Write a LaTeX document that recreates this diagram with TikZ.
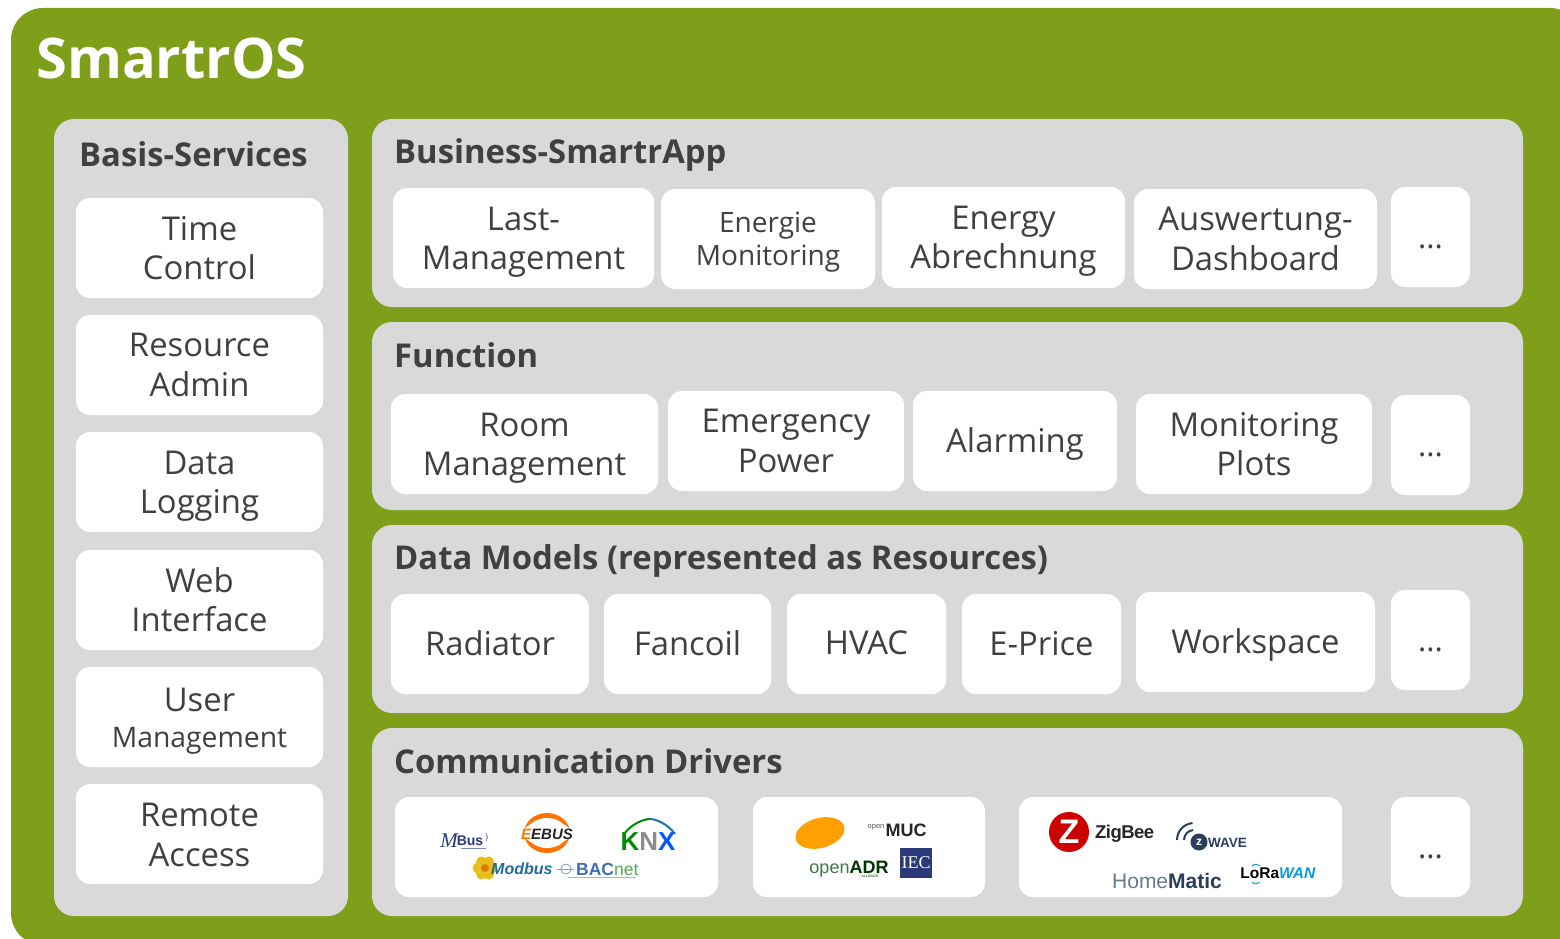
\documentclass[tikz,border=0pt]{standalone}
\usepackage{fontspec}
\usetikzlibrary{calc}
\setmainfont{Open Sans}
\newfontfamily\lsans{Liberation Sans}
\newfontfamily\lserif{Liberation Serif}
\definecolor{grn}{HTML}{7F9F1B}
\definecolor{pan}{HTML}{D9D9D9}
\definecolor{txt}{HTML}{404040}
\definecolor{navy}{HTML}{2A3A78}
\definecolor{zdark}{HTML}{2C3E5C}
\definecolor{bac}{HTML}{3F6FB5}
\tikzset{
 x=1pt,y=-1pt,
 panel/.style={fill=pan,draw=none,rounded corners=20pt,inner sep=0pt},
 card/.style={fill=white,draw=none,rounded corners=14pt,inner sep=0pt},
 cardtext/.style={inner sep=0pt,align=center,text=txt,font=\fontsize{32.8}{39.3}\selectfont},
 small/.style={font=\fontsize{28}{33}\selectfont},
 dots/.style={font=\fontsize{31}{33}\selectfont},
 head/.style={anchor=base west,text=txt,font=\fontsize{32.8}{39}\selectfont\bfseries,inner sep=0pt},
 logo/.style={inner sep=0pt,anchor=base}
}
\newcommand{\rbox}[8][]{\node[card,minimum width={(#5-#3)*1pt},minimum height={(#6-#4)*1pt}] (#2) at ({(#3+#5)/2},{(#4+#6)/2}) {};
 \node[cardtext,#1] (#2t) at ({(#3+#5)/2},{(#4+#6)/2+#7}) {#8};}
\newcommand{\pbox}[5]{\node[panel,minimum width={(#4-#2)*1pt},minimum height={(#5-#3)*1pt}] (#1) at ({(#2+#4)/2},{(#3+#5)/2}) {};}
\begin{document}
\begin{tikzpicture}
\useasboundingbox (0,0) rectangle (1560,939);
\clip (0,0) rectangle (1560,939);
\fill[grn,rounded corners=32pt] (11,8) rectangle (1582,945);
\node[anchor=base west,inner sep=0pt,text=white,font=\fontsize{56}{60}\selectfont\bfseries] (title) at (36,79) {SmartrOS};
\pbox{basis}{54}{119}{348}{916}
\pbox{biz}{372}{119}{1523}{307}
\pbox{fun}{372}{322}{1523}{510}
\pbox{dat}{372}{525}{1523}{713}
\pbox{com}{372}{728}{1523}{916}
\node[head] (hb) at (79,166) {Basis-Services};
\node[head] (h1) at (394,163) {Business-SmartrApp};
\node[head] (h2) at (394,367) {Function};
\node[head] (h3) at (394,569) {Data Models (represented as Resources)};
\node[head] (h4) at (394,773) {Communication Drivers};
\rbox{b1}{76}{198}{323}{298}{0}{Time\\Control}
\rbox{b2}{76}{315}{323}{415}{0}{Resource\\Admin}
\rbox{b3}{76}{432}{323}{532}{4}{Data\\Logging}
\rbox{b4}{76}{550}{323}{650}{0}{Web\\Interface}
\rbox{b5}{76}{667}{323}{767}{4}{User\\[-3pt]{\fontsize{28.3}{33}\selectfont Management}}
\rbox{b6}{76}{784}{323}{884}{1}{Remote\\Access}
\rbox{c1}{393}{188}{654}{288}{4}{Last-\\Management}
\rbox[small]{c2}{661}{189}{875}{289}{3}{Energie\\Monitoring}
\rbox{c3}{882}{187}{1125}{288}{3.5}{Energy\\Abrechnung}
\rbox{c4}{1134}{189}{1377}{289}{0}{Auswertung-\\Dashboard}
\rbox[dots]{c5}{1391}{187}{1470}{287}{10}{...}
\rbox{d1}{391}{394}{658}{494}{4}{Room\\Management}
\rbox{d2}{668}{391}{904}{491}{0}{Emergency\\Power}
\rbox{d3}{913}{391}{1117}{491}{3}{Alarming}
\rbox{d4}{1136}{394}{1372}{494}{0}{Monitoring\\Plots}
\rbox[dots]{d5}{1391}{395}{1470}{495}{10}{...}
\rbox{e1}{391}{594}{589}{694}{-1}{Radiator}
\rbox{e2}{604}{594}{771}{694}{-1}{Fancoil}
\rbox{e3}{787}{594}{946}{694}{-1}{HVAC}
\rbox{e4}{962}{594}{1121}{694}{0}{E-Price}
\rbox{e5}{1136}{592}{1375}{692}{3}{Workspace}
\rbox[dots]{e6}{1391}{590}{1470}{690}{10}{...}
\node[card,minimum width=323pt,minimum height=100pt] (f1) at (556.5,847) {};
\node[card,minimum width=232pt,minimum height=100pt] (f2) at (869,847) {};
\node[card,minimum width=323pt,minimum height=100pt] (f3) at (1180.5,847) {};
\rbox[dots]{f4}{1391}{797}{1470}{897}{10}{...}
% group 1
\node[logo,text=navy,font=\lsans\bfseries\fontsize{14}{15}\selectfont] (mbus) at (470,845) {Bus};
\node[logo,text=navy,font=\lserif\itshape\fontsize{21}{22}\selectfont] (mbusm) at (449,847) {M};
\draw[navy!60,line width=0.8pt] (461,848) -- (486,848);
\draw[navy!60,line width=1pt] (486,841) arc[start angle=-40,end angle=40,radius=6pt] ;
% EEBUS
\fill[orange!90!red] (547,833) ellipse[x radius=23pt,y radius=20pt];
\fill[white] (547,833) ellipse[x radius=24pt,y radius=12pt];
\fill[white] (547,833) ellipse[x radius=20pt,y radius=15pt];
\node[logo,font=\lsans\bfseries\itshape\fontsize{15}{17}\selectfont] (eebus) at (547,839) {\textcolor{orange!90!red}{E}\textcolor{black!85}{EBUS}};
% KNX
\draw[green!55!black,line width=2pt] (624,834) .. controls (632,823) and (645,819) .. (650,819);
\draw[navy!70!cyan,line width=2pt] (650,819) .. controls (655,819) and (667,823) .. (675,834);
\node[logo,font=\lsans\bfseries\fontsize{26}{27}\selectfont] (knx) at (648,850) {\textcolor{green!55!black}{K}\textcolor{black!45}{N}\textcolor{blue!65!cyan}{X}};
% Modbus
\foreach \a in {0,60,...,300}{\fill[yellow!65!orange!90!black] ($(485,868)+(\a:7pt)$) circle[radius=5.5pt];}
\fill[orange!85!yellow!85!black] (485,868) circle[radius=4pt];
\node[logo,anchor=base west,text=navy!75!cyan,font=\lsans\bfseries\itshape\fontsize{16}{17}\selectfont] (modbus) at (491,874) {Modbus};
\draw[bac!70,line width=0.8pt] (566,869) circle[radius=5pt];
\draw[bac!70,line width=0.8pt] (557,869) -- (574,869);
\draw[bac!50,line width=0.7pt] (568,877) -- (636,877);
\node[logo,anchor=base west,font=\lsans\fontsize{17.5}{18}\selectfont] (bacnet) at (576,875) {\textcolor{bac}{\textbf{BAC}}\textcolor{green!35!gray}{net}};
% group 2
\fill[orange!75!yellow,rotate around={15:(820,833)}] (820,833) ellipse[x radius=25pt,y radius=15pt];
\node[logo,text=black!65,font=\lsans\fontsize{7.5}{9}\selectfont] (omuco) at (876,828) {open};
\node[logo,text=black!85,font=\lsans\bfseries\fontsize{18}{19}\selectfont] (muc) at (906,836) {MUC};
\node[logo,font=\lsans\fontsize{18}{20}\selectfont] (adr) at (849,873) {\textcolor{green!30!black!75}{open}\textcolor{green!20!black}{\textbf{ADR}}};
\node[logo,text=green!20!black,font=\lsans\fontsize{3.5}{4}\selectfont] (all) at (870,877) {ALLIANCE};
\node[fill=navy,text=white,minimum width=32pt,minimum height=30pt,inner sep=0pt,font=\lserif\fontsize{18}{18}\selectfont] (iec) at (916,863) {IEC};
% group 3
\node[circle,fill=red!80!black,text=white,minimum size=40pt,inner sep=0pt,font=\lsans\bfseries\fontsize{34}{34}\selectfont] (zb) at (1069,832) {Z};
\node[logo,anchor=base west,text=black!85,font=\lsans\bfseries\fontsize{18.5}{19}\selectfont] (zigbee) at (1095,838) {\addfontfeature{LetterSpace=-3}ZigBee};
\node[circle,fill=zdark,text=white,minimum size=17pt,inner sep=0pt,font=\lsans\bfseries\fontsize{12}{12}\selectfont] (zw) at (1199,842) {z};
\draw[zdark,line width=2pt] (1177,840) arc[start angle=180,end angle=95,radius=17pt];
\draw[zdark,line width=2pt] (1184,840) arc[start angle=180,end angle=95,radius=10pt];
\node[logo,anchor=base west,text=zdark,font=\lsans\bfseries\fontsize{13.5}{14}\selectfont] (wave) at (1208,847) {WAVE};
\node[logo,text=zdark,font=\lsans\fontsize{21}{22}\selectfont] (hm) at (1167,888) {\textcolor{zdark!70}{Home}\textbf{Matic}};
\node[logo,text=black,font=\lsans\bfseries\fontsize{15.5}{17}\selectfont] (lora) at (1278,878) {LoRa\textcolor{cyan!85!blue}{\textit{WAN}}};
\draw[cyan!85!blue,line width=1pt] (1252,866) arc[start angle=140,end angle=40,radius=5pt];
\draw[cyan!85!blue,line width=1pt] (1252,882) arc[start angle=220,end angle=320,radius=5pt];
\end{tikzpicture}
\end{document}
